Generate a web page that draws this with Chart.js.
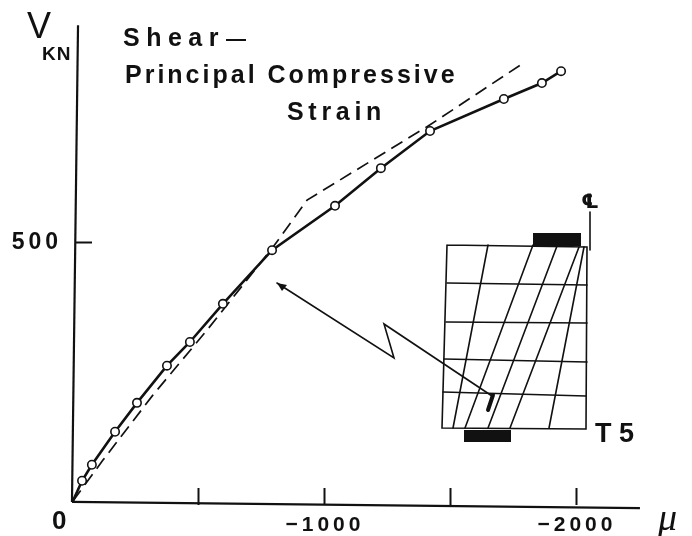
<!DOCTYPE html>
<html>
<head>
<meta charset="utf-8">
<title>Shear - Principal Compressive Strain</title>
<script src="https://cdn.jsdelivr.net/npm/chart.js@4"></script>
<style>
  html, body { margin: 0; padding: 0; background: #fff; }
  canvas { display: block; }
</style>
</head>
<body>
<canvas id="shearChart" width="692" height="536"></canvas>
<script>
// Values (strain in micro, shear in kN)
var measuredStrain = [0, -36, -75, -167, -254, -373, -464, -595, -790, -1040, -1222, -1417, -1710, -1861, -1937];
var measuredShear = [0, 39, 70, 134, 190, 262, 308, 382, 486, 572, 645, 717, 779, 810, 833];
var dashedStrain = [0, -119, -317, -532, -794, -929, -1417, -1782];
var dashedShear = [0, 79, 205, 331, 492, 583, 729, 847];

// The scanned axes lean a little, so their lines are drawn as thin series
var xAxisStrain = [4, -2250];
var xAxisShear = [-2, -14];
var yAxisStrain = [4, -20];
var yAxisShear = [-2, 922];

var xTickValues = [-500, -1000, -1500, -2000];
var xTickLabels = { '-1000': '\u22121000', '-2000': '\u22122000' };
var yTickValues = [500];
var yTickLabels = { '500': '500' };

function toPoints(xs, ys) {
  return xs.map(function(x, i) { return { x: x, y: ys[i] }; });
}

function toTicks(values) {
  return values.map(function(v) { return { value: v }; });
}

function axisLine(xs, ys) {
  return { data: toPoints(xs, ys), showLine: true, borderColor: '#111', borderWidth: 2.2, pointRadius: 0, clip: false, order: 3 };
}

// Drop the margins Chart.js keeps for tick labels so the plot area stays where it is set
function noPadding(scale) {
  scale.paddingTop = 0;
  scale.paddingBottom = 0;
  scale.paddingLeft = 0;
  scale.paddingRight = 0;
}

// The small wall diagram, callout arrow and free text labels
var annotations = {
  id: 'annotations',
  beforeDraw: function(chart) {
    chart.ctx.letterSpacing = '4px';
  },
  afterDraw: function(chart) {
    var ctx = chart.ctx;
    ctx.save();
    ctx.strokeStyle = '#111';
    ctx.fillStyle = '#111';
    ctx.lineCap = 'round';

    function line(coords, width) {
      ctx.lineWidth = width || 1.6;
      ctx.beginPath();
      coords.forEach(function(c, i) {
        if (i === 0) ctx.moveTo(c[0], c[1]); else ctx.lineTo(c[0], c[1]);
      });
      ctx.stroke();
    }
    function text(str, x, y, font, spacing, align) {
      ctx.font = font;
      ctx.letterSpacing = spacing || '0px';
      ctx.textAlign = align || 'left';
      ctx.textBaseline = 'middle';
      ctx.fillText(str, x, y);
    }

    // wall outline and courses
    line([[447, 245], [587, 247], [586, 429], [442, 428], [447, 245]]);
    line([[447, 283], [587, 285]]);
    line([[446, 322], [587, 323]]);
    line([[444, 359], [587, 362]]);
    line([[443, 392], [586, 396]]);
    // slanted lines
    line([[488, 245], [453, 428]]);
    line([[533, 245], [465, 428]]);
    line([[557, 246], [488, 428]]);
    line([[579, 247], [510, 428]]);
    line([[584, 247], [549, 428]]);
    // loading plates
    ctx.fillRect(533, 233, 48, 13);
    ctx.fillRect(464, 430, 47, 12);
    // centre line
    line([[590, 212], [590, 250]]);
    text('\u2104', 590, 203, 'bold 20px "DejaVu Sans"', '0px', 'center');
    // gauge and callout
    line([[493, 395], [488, 410]], 4);
    line([[277, 283], [394, 358], [384, 324], [492, 396]]);
    ctx.beginPath();
    ctx.moveTo(277, 283);
    ctx.lineTo(287, 285);
    ctx.lineTo(282, 291);
    ctx.closePath();
    ctx.fill();

    // title and labels
    var bold = 'bold 25px "Liberation Sans"';
    text('Shear', 123, 39, bold, '6.5px');
    text('\u2014', 226, 39, 'bold 20px "Liberation Sans"');
    text('Principal Compressive', 125, 76, bold, '3px');
    text('Strain', 287, 113, bold, '4.7px');
    text('V', 27, 28, '36px "Liberation Sans"');
    text('KN', 42, 55, 'bold 19px "Liberation Sans"', '1px');
    text('0', 52, 522, 'bold 26px "Liberation Sans"');
    text('T 5', 595, 435, 'bold 27px "Liberation Sans"');
    text('\u03bc', 658, 520, 'italic 38px "Liberation Serif"');
    ctx.restore();
  }
};

new Chart(document.getElementById('shearChart').getContext('2d'), {
  type: 'scatter',
  data: {
    datasets: [
      {
        label: 'Calculated',
        data: toPoints(dashedStrain, dashedShear),
        showLine: true,
        borderColor: '#111',
        borderWidth: 1.7,
        borderDash: [13, 7],
        pointRadius: 0,
        clip: false,
        order: 2
      },
      {
        label: 'Measured',
        data: toPoints(measuredStrain, measuredShear),
        showLine: true,
        borderColor: '#111',
        borderWidth: 2.6,
        pointBackgroundColor: '#fff',
        pointBorderColor: '#111',
        pointBorderWidth: 1.6,
        pointRadius: function(ctx) { return ctx.dataIndex === 0 ? 0 : 4.2; },
        clip: false,
        order: 1
      },
      axisLine(xAxisStrain, xAxisShear),
      axisLine(yAxisStrain, yAxisShear)
    ]
  },
  options: {
    responsive: false,
    animation: false,
    layout: { padding: { top: 25, right: 43 } },
    plugins: { legend: { display: false }, tooltip: { enabled: false } },
    scales: {
      x: {
        type: 'linear',
        reverse: true,
        min: -2286,
        max: -8,
        afterBuildTicks: function(scale) { scale.ticks = toTicks(xTickValues); },
        afterFit: function(scale) { scale.height = 31; noPadding(scale); },
        border: { display: false },
        grid: { drawOnChartArea: false, tickLength: -17, tickWidth: 2, tickColor: '#111' },
        ticks: {
          autoSkip: false,
          maxRotation: 0,
          padding: 25,
          color: '#111',
          font: { family: '"Liberation Sans"', weight: 'bold', size: 21 },
          callback: function(value) { return xTickLabels[value] || ''; }
        }
      },
      y: {
        type: 'linear',
        min: -8,
        max: 922.5,
        afterBuildTicks: function(scale) { scale.ticks = toTicks(yTickValues); },
        afterFit: function(scale) { scale.width = 75; noPadding(scale); },
        border: { display: false },
        grid: { drawOnChartArea: false, tickLength: -17, tickWidth: 2, tickColor: '#111' },
        ticks: {
          autoSkip: false,
          padding: 30,
          color: '#111',
          font: { family: '"Liberation Sans"', weight: 'bold', size: 23 },
          callback: function(value) { return yTickLabels[value] || ''; }
        }
      }
    }
  },
  plugins: [annotations]
});
</script>
</body>
</html>
